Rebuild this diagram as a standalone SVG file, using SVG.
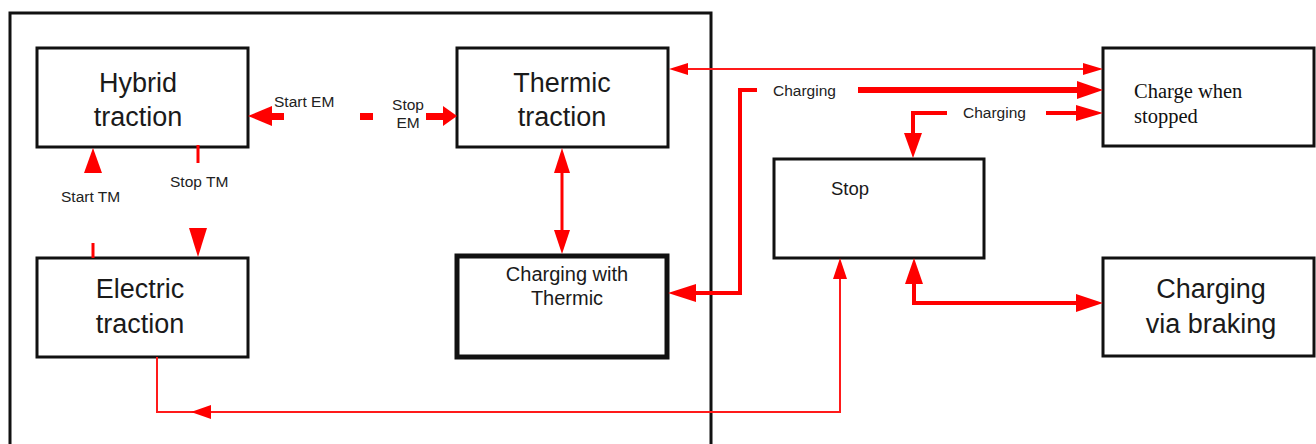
<svg xmlns="http://www.w3.org/2000/svg" width="1316" height="444" viewBox="0 0 1316 444">
<style>
.box{fill:#fff;stroke:#111;stroke-width:3}
.thick{fill:#fff;stroke:#111;stroke-width:5}
.frame{fill:none;stroke:#111;stroke-width:3}
.big{font-family:"Liberation Sans",Arial,sans-serif;font-size:27px;fill:#1a1a1a;text-anchor:middle}
.mid{font-family:"Liberation Sans",Arial,sans-serif;font-size:18.5px;fill:#1a1a1a}
.sm{font-family:"Liberation Sans",Arial,sans-serif;font-size:15.5px;fill:#222}
.serif{font-family:"Liberation Serif","Times New Roman",serif;font-size:20.5px;fill:#111}
.l2{fill:none;stroke:#ff1a1a;stroke-width:2}
.l3{fill:none;stroke:#ff0000;stroke-width:3}
.l4{fill:none;stroke:#ff0000;stroke-width:4}
.l6{fill:none;stroke:#ff0000;stroke-width:6}
.h{fill:#ff0000}
</style>
<rect width="1316" height="444" fill="#fff"/>
<rect class="frame" x="10" y="13" width="701" height="440"/>

<g id="hybrid">
<rect class="box" x="37" y="48" width="211" height="99"/>
<text class="big" x="138" y="92">Hybrid</text>
<text class="big" x="138" y="126">traction</text>
</g>
<g id="thermic">
<rect class="box" x="457" y="48" width="211" height="99"/>
<text class="big" x="562" y="92">Thermic</text>
<text class="big" x="562" y="126">traction</text>
</g>
<g id="electric">
<rect class="box" x="37" y="258" width="211" height="99"/>
<text class="big" x="140" y="298">Electric</text>
<text class="big" x="140" y="333">traction</text>
</g>
<g id="chargingThermic">
<rect class="thick" x="457" y="256" width="210" height="101"/>
<text class="mid" x="567" y="281" text-anchor="middle" style="font-size:20px">Charging with</text>
<text class="mid" x="567" y="305" text-anchor="middle" style="font-size:20px">Thermic</text>
</g>
<g id="stop">
<rect class="box" x="774" y="159" width="210" height="99"/>
<text class="mid" x="831" y="195">Stop</text>
</g>
<g id="chargeStopped">
<rect class="box" x="1103" y="48" width="211" height="98"/>
<text class="serif" x="1134" y="98">Charge when</text>
<text class="serif" x="1134" y="123">stopped</text>
</g>
<g id="braking">
<rect class="box" x="1103" y="258" width="211" height="98"/>
<text class="big" x="1211" y="298">Charging</text>
<text class="big" x="1211" y="333">via braking</text>
</g>

<g id="connectors">
<!-- Start EM / Stop EM -->
<rect class="h" x="271" y="113" width="13" height="7"/>
<polygon class="h" points="248,116 272,106 272,126"/>
<rect class="h" x="360" y="113" width="13" height="7"/>
<rect class="h" x="426" y="113" width="18" height="7"/>
<polygon class="h" points="457,116 443,106 443,126"/>
<text class="sm" x="274" y="107">Start EM</text>
<text class="sm" x="408" y="110" text-anchor="middle">Stop</text>
<text class="sm" x="408" y="128" text-anchor="middle">EM</text>

<!-- Start TM / Stop TM -->
<polygon class="h" points="93,148 84,173 102,173"/>
<line class="l3" x1="93" y1="243" x2="93" y2="258"/>
<line class="l3" x1="198" y1="145" x2="198" y2="163"/>
<polygon class="h" points="198,257 189,228 207,228"/>
<text class="sm" x="61" y="202">Start TM</text>
<text class="sm" x="170" y="187">Stop TM</text>

<!-- Thermic <-> Charging with Thermic -->
<line class="l3" x1="562" y1="170" x2="562" y2="232"/>
<polygon class="h" points="562,148 554,173 570,173"/>
<polygon class="h" points="562,254 554,230 570,230"/>

<!-- Electric -> Stop -->
<polyline class="l2" points="157,357 157,412 840,412 840,276"/>
<polygon class="h" points="840,258 833,279 847,279"/>
<polygon class="h" points="191,412 211,405 211,419"/>

<!-- Stop <-> Charging via braking -->
<polyline class="l4" points="914,282 914,303 1078,303"/>
<polygon class="h" points="914,258 905,284 923,284"/>
<polygon class="h" points="1103,303 1076,294 1076,312"/>

<!-- Charging -> Charging with Thermic -->
<polyline class="l4" points="757,90 740,90 740,293 694,293"/>
<polygon class="h" points="668,293 696,284 696,302"/>
<text class="sm" x="773" y="96">Charging</text>

<!-- thick Charging -> Charge when stopped -->
<line class="l6" x1="858" y1="90" x2="1080" y2="90"/>
<polygon class="h" points="1103,90 1077,81 1077,99"/>

<!-- Thermic <-> Charge when stopped -->
<line class="l2" x1="685" y1="69" x2="1085" y2="69"/>
<polygon class="h" points="669,69 688,63 688,75"/>
<polygon class="h" points="1103,69 1083,63 1083,75"/>

<!-- second Charging -->
<polyline class="l4" points="947,113 913,113 913,135"/>
<polygon class="h" points="913,158 904,133 922,133"/>
<line class="l4" x1="1046" y1="113" x2="1078" y2="113"/>
<polygon class="h" points="1103,113 1076,105 1076,121"/>
<text class="sm" x="963" y="118">Charging</text>
</g>
</svg>
